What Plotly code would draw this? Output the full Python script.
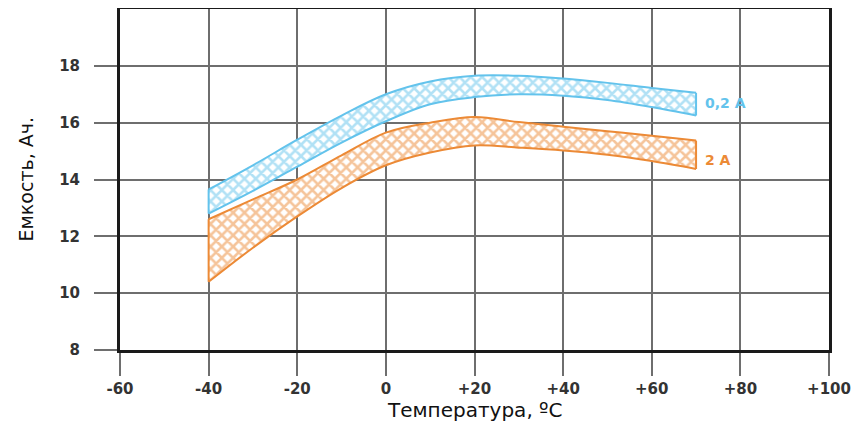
import plotly.graph_objects as go

temps = [-40, -30, -20, -10, 0, 10, 20, 30, 40, 50, 60, 70]
blue_hi = [13.65, 14.5, 15.4, 16.25, 17.0, 17.45, 17.65, 17.65, 17.55, 17.4, 17.22, 17.05]
blue_lo = [12.8, 13.6, 14.45, 15.3, 16.05, 16.65, 16.9, 17.0, 16.95, 16.8, 16.55, 16.25]
orange_hi = [12.6, 13.3, 14.0, 14.85, 15.65, 16.0, 16.2, 16.02, 15.86, 15.7, 15.54, 15.37]
orange_lo = [10.4, 11.6, 12.7, 13.7, 14.5, 14.95, 15.2, 15.12, 15.02, 14.87, 14.65, 14.37]

x_ticks = [-60, -40, -20, 0, 20, 40, 60, 80, 100]
x_labels = ["-60", "-40", "-20", "0", "+20", "+40", "+60", "+80", "+100"]
y_ticks = [8, 10, 12, 14, 16, 18]
y_labels = ["8", "10", "12", "14", "16", "18"]

series = [
    ("0,2 A", blue_hi, blue_lo, "#63C3EC"),
    ("2 A", orange_hi, orange_lo, "#EC8A36"),
]

fig = go.Figure()
for name, hi, lo, col in series:
    line = dict(color=col, width=2, shape="spline", smoothing=1.0)
    fig.add_trace(go.Scatter(x=temps, y=lo, mode="lines", line=line,
                             showlegend=False, hoverinfo="skip"))
    fig.add_trace(go.Scatter(
        x=temps, y=hi, mode="lines", fill="tonexty", line=line,
        fillcolor="white",
        fillpattern=dict(shape="x", fgcolor=col, bgcolor="white", size=8, solidity=0.55),
        showlegend=False, hoverinfo="skip", name=name,
    ))
    # straight end caps
    fig.add_trace(go.Scatter(
        x=[temps[0], temps[0], None, temps[-1], temps[-1]],
        y=[lo[0], hi[0], None, lo[-1], hi[-1]],
        mode="lines", line=dict(color=col, width=2),
        showlegend=False, hoverinfo="skip"))

fig.add_annotation(x=71.5, y=16.68, text="<b>0,2 A</b>", showarrow=False, xanchor="left",
                   font=dict(family="DejaVu Sans", size=14, color="#63C3EC"))
fig.add_annotation(x=71.5, y=14.68, text="<b>2 A</b>", showarrow=False, xanchor="left",
                   font=dict(family="DejaVu Sans", size=14, color="#EC8A36"))

fig.add_annotation(xref="paper", yref="paper", x=0.5, y=0, yshift=-60, yanchor="middle",
                   text="Температура, ºC", showarrow=False,
                   font=dict(family="DejaVu Sans", size=20, color="#111"))
fig.add_annotation(xref="paper", yref="paper", x=0, y=0.5, xshift=-95, xanchor="center",
                   textangle=-90, text="Емкость, Ач.", showarrow=False,
                   font=dict(family="DejaVu Sans", size=19, color="#111"))

axis_common = dict(
    showgrid=True, gridcolor="#6e6e6e", gridwidth=1.5, zeroline=False,
    showline=True, linecolor="#1a1a1a", linewidth=3, mirror=True,
    ticks="outside", ticklen=23, tickwidth=1.5, tickcolor="#6e6e6e",
    tickfont=dict(family="DejaVu Sans", size=15, color="#333333", weight="bold"),
    automargin=False,
)

fig.update_xaxes(range=[-60, 100], tickvals=x_ticks, ticktext=x_labels,
                 ticklabelstandoff=0, **axis_common)
fig.update_yaxes(range=[8, 20], tickvals=y_ticks, ticktext=y_labels,
                 ticklabelstandoff=11, **axis_common)

fig.update_layout(
    width=848, height=418,
    margin=dict(l=112, r=27, t=1, b=76),
    plot_bgcolor="white", paper_bgcolor="white",
)

fig.write_html("out.html")
